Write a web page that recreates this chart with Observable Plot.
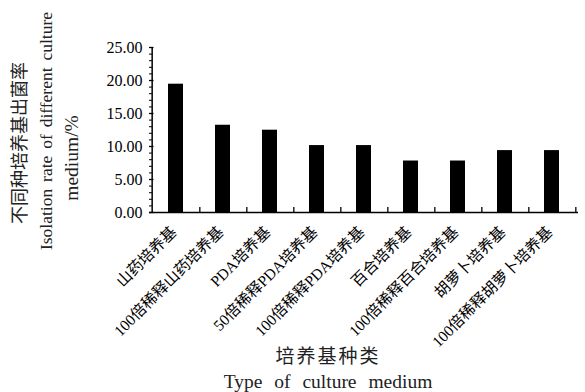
<!DOCTYPE html>
<html>
<head>
<meta charset="utf-8">
<script src="https://cdn.jsdelivr.net/npm/d3@7"></script>
<script src="https://cdn.jsdelivr.net/npm/@observablehq/plot@0.6"></script>
<style>
  html, body { margin: 0; padding: 0; background: #fff; }
  #chart svg { display: block; }
  #chart svg text { font-family: "Liberation Serif", "Noto Sans CJK SC", serif; }
</style>
</head>
<body>
<div id="chart"></div>
<script>
const categories = ["山药培养基", "100倍稀释山药培养基", "PDA培养基", "50倍稀释PDA培养基", "100倍稀释PDA培养基", "百合培养基", "100倍稀释百合培养基", "胡萝卜培养基", "100倍稀释胡萝卜培养基"];
const values = [19.44, 13.22, 12.47, 10.14, 10.14, 7.8, 7.8, 9.38, 9.38];
const yTicks = [0, 5, 10, 15, 20, 25];
const yMinorTicks = d3.range(0, 26, 1);
const yTitleLines = ["不同种培养基出菌率", "Isolation rate of different culture", "medium/%"];
const xTitleLines = ["培养基种类", "Type of culture medium"];

const data = categories.map((c, i) => ({ cat: c, value: values[i] }));
const font = "Liberation Serif, Noto Sans CJK SC, serif";
const W = 585, H = 392;
const mL = 149, mR = 7, mT = 47, mB = 180;
const step = (W - mL - mR) / categories.length;

const chart = Plot.plot({
  width: W,
  height: H,
  marginLeft: mL,
  marginRight: mR,
  marginTop: mT,
  marginBottom: mB,
  style: { background: "#fff", color: "#000" },
  x: { domain: categories, paddingInner: 0.685, paddingOuter: 0.3425, axis: null },
  y: { domain: [0, 25], axis: null },
  marks: [
    Plot.barY(data, { x: "cat", y: "value", fill: "#000" }),
    // x-axis line
    Plot.ruleY([0], { stroke: "#000", strokeWidth: 1.5 }),
    // y-axis line
    Plot.ruleX([categories[0]], { y1: 0, y2: 25, dx: -step / 2, stroke: "#000", strokeWidth: 1.5 }),
    // x ticks at band boundaries, pointing up
    Plot.ruleX(categories, { x: d => d, y1: 0, y2: 0.75, dx: step / 2, stroke: "#000", strokeWidth: 1.3 }),
    // y minor ticks pointing inward
    Plot.tickY(yMinorTicks, { y: d => d, insetRight: (W - mL - mR) - 3, stroke: "#000", strokeWidth: 1 }),
    // y major ticks
    Plot.tickY(yTicks, { y: d => d, insetRight: (W - mL - mR) - 4.5, stroke: "#000", strokeWidth: 1.3 }),
    // y tick labels
    Plot.text(yTicks, { y: d => d, frameAnchor: "left", text: d => d.toFixed(2), textAnchor: "end", dx: -7, fontSize: 16, fontFamily: font, fill: "#000" }),
    // x tick labels
    Plot.text(categories, { x: d => d, y: 0, text: d => d, rotate: -45, textAnchor: "end", lineAnchor: "middle", dx: -2, dy: 17, fontSize: 15.5, fontFamily: font, fill: "#000" })
  ]
});

const svg = d3.select(chart);
// y title (rotated lines)
const yPos = [[20, 143], [46, 131], [71, 158]];
const ySizes = [18, 17.5, 19.5];
yTitleLines.forEach((t, i) => {
  svg.append("text")
    .attr("transform", `translate(${yPos[i][0]},${yPos[i][1]}) rotate(-90)`)
    .attr("text-anchor", "middle")
    .attr("dominant-baseline", "central")
    .attr("font-family", font)
    .attr("font-size", ySizes[i])
    .attr("word-spacing", i === 1 ? 2.5 : 0)
    .attr("fill", "#222")
    .text(t);
});
// x title
const xPos = [[328, 356], [328, 381]];
xTitleLines.forEach((t, i) => {
  svg.append("text")
    .attr("x", xPos[i][0])
    .attr("y", xPos[i][1])
    .attr("text-anchor", "middle")
    .attr("dominant-baseline", "central")
    .attr("font-family", font)
    .attr("font-size", i === 0 ? 19 : 19.5)
    .attr("letter-spacing", i === 0 ? 2 : 0)
    .attr("word-spacing", i === 1 ? 7 : 0)
    .attr("fill", "#222")
    .text(t);
});

document.getElementById("chart").appendChild(chart);
</script>
</body>
</html>
